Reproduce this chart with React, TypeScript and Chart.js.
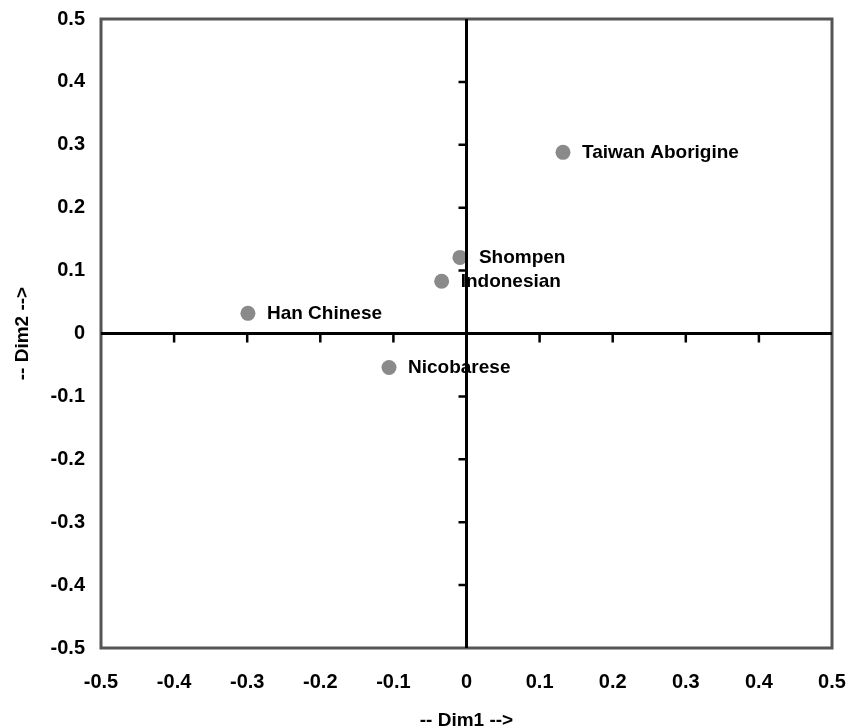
import React, { useEffect, useRef } from "react";
import { Chart, registerables } from "chart.js";

Chart.register(...registerables);

const populations = ["Taiwan Aborigine", "Shompen", "Indonesian", "Han Chinese", "Nicobarese"];
const dim1 = [0.132, -0.009, -0.034, -0.299, -0.106];
const dim2 = [0.288, 0.121, 0.083, 0.032, -0.054];
const axisMin = -0.5;
const axisMax = 0.5;
const axisStep = 0.1;

const fmt = (v: number) => {
  const r = Math.round(v * 10) / 10;
  return r === 0 ? "0" : String(r);
};

const FONT = "'Liberation Sans', Arial, sans-serif";

const framePlugin = {
  id: "frame",
  afterDatasetsDraw(chart: any) {
    const { ctx, chartArea, scales } = chart;
    const xs = scales.x;
    const ys = scales.y;
    ctx.save();
    ctx.strokeStyle = "#555555";
    ctx.lineWidth = 3;
    ctx.strokeRect(chartArea.left, chartArea.top, chartArea.right - chartArea.left, chartArea.bottom - chartArea.top);
    const x0 = xs.getPixelForValue(0);
    const y0 = ys.getPixelForValue(0);
    ctx.strokeStyle = "#000000";
    ctx.lineWidth = 3;
    ctx.beginPath();
    ctx.moveTo(chartArea.left, y0);
    ctx.lineTo(chartArea.right, y0);
    ctx.moveTo(x0, chartArea.top);
    ctx.lineTo(x0, chartArea.bottom);
    ctx.stroke();
    ctx.lineWidth = 2.5;
    ctx.beginPath();
    for (let i = 1; i < 10; i++) {
      const v = axisMin + i * axisStep;
      if (Math.abs(v) < 1e-9) continue;
      const px = xs.getPixelForValue(v);
      ctx.moveTo(px, y0);
      ctx.lineTo(px, y0 + 9);
      const py = ys.getPixelForValue(v);
      ctx.moveTo(x0, py);
      ctx.lineTo(x0 - 8, py);
    }
    ctx.stroke();
    ctx.restore();
  },
  afterDraw(chart: any) {
    const { ctx } = chart;
    const meta = chart.getDatasetMeta(0);
    ctx.save();
    ctx.fillStyle = "#000000";
    ctx.font = `bold 19px ${FONT}`;
    ctx.textBaseline = "middle";
    ctx.textAlign = "left";
    meta.data.forEach((el: any, i: number) => {
      ctx.fillText(populations[i], el.x + 19, el.y);
    });
    ctx.restore();
  },
};

export default function App() {
  const ref = useRef<HTMLCanvasElement | null>(null);
  useEffect(() => {
    document.body.style.margin = "0";
    const canvas = ref.current;
    if (!canvas) return;
    const chart = new Chart(canvas, {
      type: "scatter",
      data: {
        datasets: [
          {
            label: "Populations",
            data: dim1.map((x, i) => ({ x, y: dim2[i] })),
            backgroundColor: "#8a8a8a",
            borderColor: "#8a8a8a",
            pointRadius: 7.5,
            pointHoverRadius: 7.5,
            borderWidth: 0,
          },
        ],
      },
      plugins: [framePlugin],
      options: {
        responsive: false,
        animation: false,
        events: [],
        layout: { padding: { top: 19, right: 27, left: 0, bottom: 0 } },
        plugins: { legend: { display: false }, tooltip: { enabled: false } },
        scales: {
          x: {
            type: "linear",
            min: axisMin,
            max: axisMax,
            afterFit: (s: any) => {
              s.height = 80;
              s.paddingLeft = 0;
              s.paddingRight = 0;
            },
            grid: { display: false, drawTicks: false },
            border: { display: false },
            ticks: {
              stepSize: axisStep,
              padding: 22,
              color: "#000",
              font: { family: FONT, size: 20, weight: "bold" },
              callback: (v: any) => fmt(Number(v)),
              maxRotation: 0,
              autoSkip: false,
            },
            title: {
              display: true,
              text: "-- Dim1 -->",
              color: "#000",
              font: { family: FONT, size: 19, weight: "bold", lineHeight: 1 },
              padding: { top: 0, bottom: -2 },
            },
          },
          y: {
            type: "linear",
            min: axisMin,
            max: axisMax,
            afterFit: (s: any) => {
              s.width = 101;
              s.paddingTop = 0;
              s.paddingBottom = 0;
            },
            grid: { display: false, drawTicks: false },
            border: { display: false },
            ticks: {
              stepSize: axisStep,
              padding: 16,
              color: "#000",
              font: { family: FONT, size: 20, weight: "bold" },
              callback: (v: any) => fmt(Number(v)),
              autoSkip: false,
            },
            title: {
              display: true,
              text: "-- Dim2 -->",
              color: "#000",
              font: { family: FONT, size: 19, weight: "bold", lineHeight: 1 },
              padding: { top: 13, bottom: 0 },
            },
          },
        },
      },
    });
    return () => chart.destroy();
  }, []);
  return (
    <div style={{ width: 859, height: 728 }}>
      <canvas ref={ref} width={859} height={728} style={{ display: "block" }} />
    </div>
  );
}
